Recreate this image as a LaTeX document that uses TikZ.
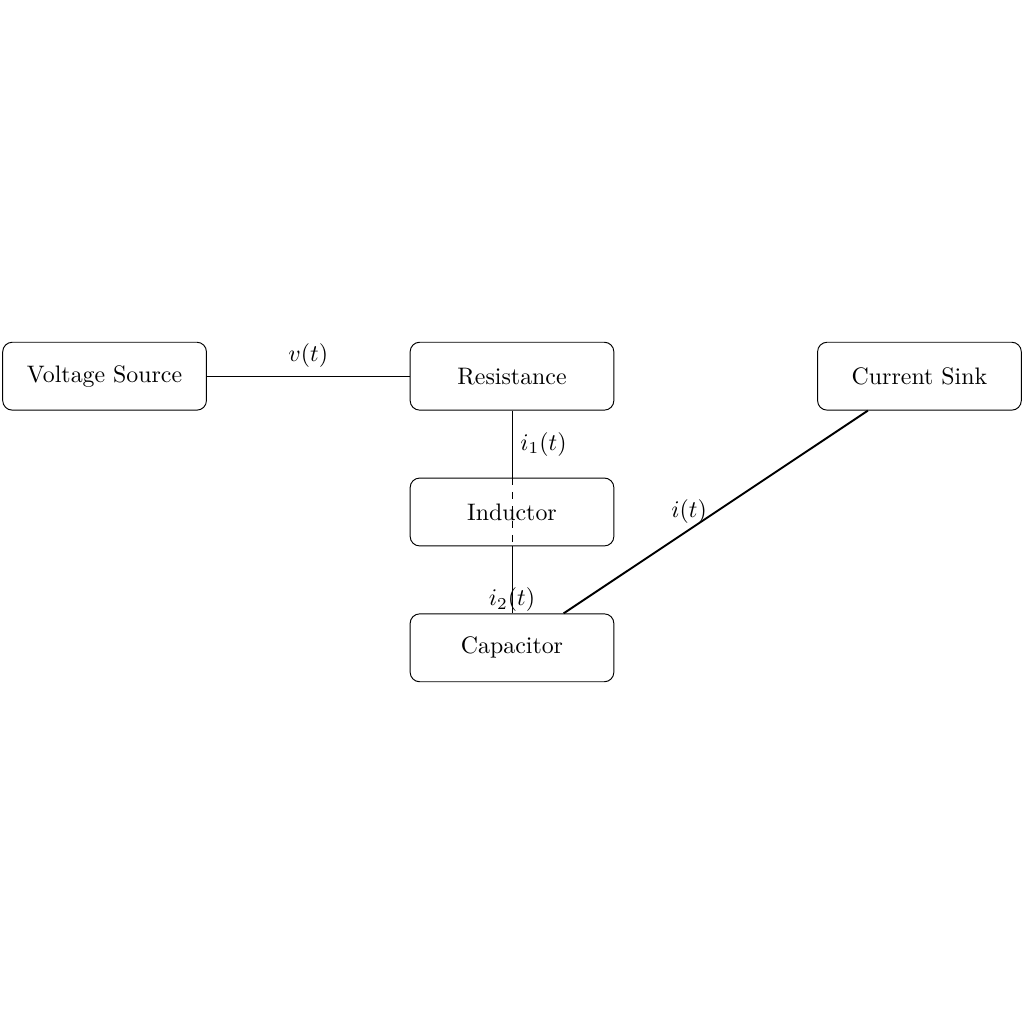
\documentclass[tikz,border=0pt]{standalone}
\begin{document}
\begin{tikzpicture}
	\useasboundingbox (-1.54,-9.54) rectangle (13.54,5.54);
	\tikzstyle{block}=[draw,rounded corners,minimum width=3cm,minimum height=1cm]
	\node[block] (src) at (0,0) {Voltage Source};
	\node[block] (res) at (6,0) {Resistance};
	\node[block] (sink) at (12,0) {Current Sink};
	\node[block] (ind) at (6,-2) {Inductor};
	\node[block] (cap) at (6,-4) {Capacitor};

	\draw (src) -- node[above]{$v(t)$} (res);
	\draw (res) -- node[right]{$i_1(t)$} (ind);
	\draw[dashed] (ind.north) -- (ind.south);
	\draw (ind) -- node[pos=0.8]{$i_2(t)$} (cap);
	\draw[thick] (cap) -- node[left]{$i(t)$} (sink);
\end{tikzpicture}
\end{document}
